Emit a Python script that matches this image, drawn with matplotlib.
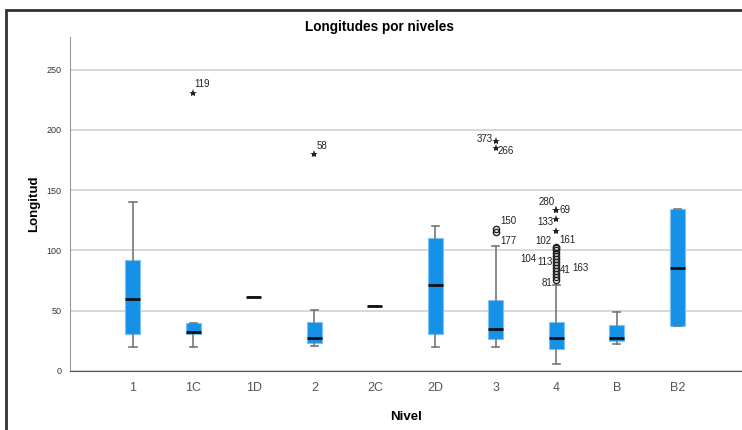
import matplotlib.pyplot as plt
import matplotlib.patches as patches
import numpy as np

plt.rcParams['font.family'] = ['Liberation Sans', 'DejaVu Sans']

# Datos de las cajas
niveles = ['1', '1C', '1D', '2', '2C', '2D', '3', '4', 'B', 'B2']
bigote_inf = [20, 20, 61.5, 21, 53.5, 20, 20, 5.5, 22.5, 37]
q1 = [31, 31, 61.5, 23, 53.5, 31, 26.5, 18.5, 25, 37]
mediana = [60, 32, 61.5, 27.5, 53.5, 71, 35, 27, 27, 85.5]
q3 = [92, 40, 61.5, 41, 53.5, 110, 59, 40.5, 38, 134]
bigote_sup = [140, 40, 61.5, 50.5, 53.5, 120, 104, 71, 49, 134]

# Valores atipicos (circulos)
atip_nivel = ['3', '3', '4', '4', '4', '4', '4', '4', '4', '4', '4', '4', '4', '4', '4']
atip_valor = [118, 115.5, 103, 102, 100.5, 98, 95.5, 93, 90.5, 88, 85.5, 83, 80.5, 78, 75.5]
atip_id = ['150', '177', '102', '161', '', '', '', '104', '113', '163', '41', '', '', '', '81']

# Valores extremos (estrellas)
ext_nivel = ['1C', '2', '3', '3', '4', '4', '4', '4']
ext_valor = [230.5, 180, 190.5, 185, 133.5, 133.5, 126, 116.5]
ext_id = ['119', '58', '373', '266', '280', '69', '133', '']

# desplazamiento de las etiquetas (pixeles)
atip_off = [(13, 8), (13, -9), (-13, 6), (11, 8), (0, 0), (0, 0), (0, 0), (-28, 0),
            (-11, 0), (24, -3), (9, -2), (0, 0), (0, 0), (0, 0), (-9, -3)]
ext_off = [(9, 9), (8, 8), (-11, 2), (10, -3), (-10, 8), (9, 0), (-11, -3), (0, 0)]

fig = plt.figure(figsize=(7.42, 4.30), dpi=100)
ax = fig.add_axes([70 / 742, 59 / 430, 672 / 742, 334 / 430])

stats = []
for i, n in enumerate(niveles):
    stats.append(dict(label=n, med=mediana[i], q1=q1[i], q3=q3[i],
                      whislo=bigote_inf[i], whishi=bigote_sup[i], fliers=[]))

pos = np.arange(len(niveles))
ax.bxp(stats, positions=pos, widths=0.25, patch_artist=True, showfliers=False,
       boxprops=dict(facecolor='#1591e8', edgecolor='#7cc2f2', linewidth=0.8),
       medianprops=dict(color='#111111', linewidth=2),
       whiskerprops=dict(color='#777777', linewidth=1.2),
       capprops=dict(color='#777777', linewidth=1.2),
       capwidths=0.12, zorder=3)

idx = {n: i for i, n in enumerate(niveles)}

ax.plot([idx[n] for n in atip_nivel], atip_valor, 'o', ms=4.5, mfc='none',
        mec='#222222', mew=1, zorder=4)
ax.plot([idx[n] for n in ext_nivel], ext_valor, '*', ms=6, color='#222222',
        mew=0, zorder=4)

for n, v, t, o in zip(atip_nivel + ext_nivel, atip_valor + ext_valor,
                      atip_id + ext_id, atip_off + ext_off):
    if t:
        ax.annotate(t, (idx[n], v), xytext=o, textcoords='offset pixels',
                    ha='center', va='center', fontsize=7, color='#222222', zorder=5)

ax.set_xlim(-1.04, 10.07)
ax.set_ylim(0, 277)
ax.set_yticks([0, 50, 100, 150, 200, 250])
ax.set_xticks(pos)
ax.set_xticklabels(niveles)
ax.yaxis.grid(True, color='#d4d4d4', linewidth=1.3, zorder=0)
ax.set_axisbelow(True)
ax.tick_params(axis='y', length=0, labelsize=6.5, labelcolor='#333333', pad=6)
ax.tick_params(axis='x', length=0, labelsize=9, labelcolor='#555555', pad=8)
for s in ['top', 'right']:
    ax.spines[s].set_visible(False)
ax.spines['left'].set_color('#999999')
ax.spines['bottom'].set_color('#555555')

ax.set_ylabel('Longitud', fontsize=9.5, fontweight='bold', labelpad=5)
ax.set_xlabel('Nivel', fontsize=9.5, fontweight='bold', labelpad=12)
fig.text(379 / 742, 1 - 27 / 430, 'Longitudes por niveles', ha='center', va='center',
         fontsize=9.8, fontweight='bold')

# marco exterior
fig.patches.append(patches.Rectangle((6 / 742, -0.5), 2, 1.5 - 9.5 / 430,
                                     transform=fig.transFigure, fill=False,
                                     edgecolor='#333333', linewidth=2))

plt.savefig('out.png', dpi=100)
